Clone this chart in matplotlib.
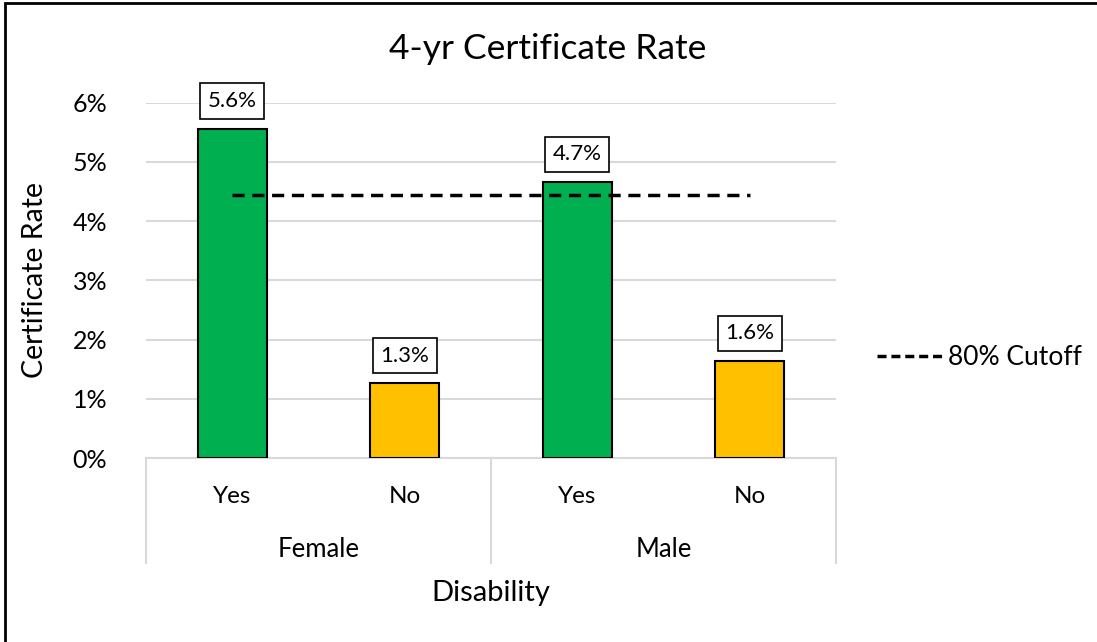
import matplotlib
matplotlib.use("Agg")
import matplotlib.pyplot as plt
from matplotlib.lines import Line2D
from matplotlib.patches import Rectangle

plt.rcParams['font.family'] = ['Lato', 'DejaVu Sans']

# data
groups = ["Female", "Male"]
disability = ["Yes", "No", "Yes", "No"]
rates = [0.0556, 0.0126, 0.0466, 0.0164]
bar_colors = ["#00B050", "#FFC000", "#00B050", "#FFC000"]
cutoff = 0.8 * max(rates)

W, H = 1097, 642
fig = plt.figure(figsize=(W / 100, H / 100), dpi=100)
ax = fig.add_axes([146 / W, 1 - 458 / H, 690 / W, (458 - 102.7) / H])

x = list(range(len(rates)))
ax.bar(x, rates, width=0.4, color=bar_colors, edgecolor="black", linewidth=1.5, zorder=3)

# 80% cutoff line, from first to last bar centre
ax.plot([x[0], x[-1]], [cutoff, cutoff], color="black", linestyle=(0, (3.5, 2.2)),
        linewidth=2.5, zorder=4)

# value labels in boxes
for xi, v in zip(x, rates):
    ax.annotate(f"{v * 100:.1f}%", (xi, v), xytext=(0, 20), textcoords="offset points",
                ha="center", va="center", fontsize=16, annotation_clip=False,
                bbox=dict(boxstyle="square,pad=0.34", fc="white", ec="black", lw=1.2))

ax.set_xlim(-0.5, 3.5)
ax.set_ylim(0, 0.06)
ax.set_yticks([0, 0.01, 0.02, 0.03, 0.04, 0.05, 0.06])
ax.set_yticklabels([f"{int(t * 100)}%" for t in ax.get_yticks()], fontsize=18)
ax.set_xticks(x)
ax.set_xticklabels(disability, fontsize=17.5)
ax.tick_params(axis="both", length=0)
ax.tick_params(axis="y", pad=28)
ax.tick_params(axis="x", pad=20)
ax.grid(axis="y", color="#d9d9d9", linewidth=1.5, zorder=0)
for s in ["top", "right", "left"]:
    ax.spines[s].set_visible(False)
ax.spines["bottom"].set_color("#d9d9d9")
ax.spines["bottom"].set_linewidth(1.5)

# group separators and labels
for xs in [-0.5, 1.5, 3.5]:
    ax.add_line(Line2D([xs, xs], [0, -0.0178], color="#d9d9d9", linewidth=1.5, clip_on=False,
                       transform=ax.transData))
for gi, g in enumerate(groups):
    ax.text(gi * 2 + 0.5, -0.0154, g, ha="center", va="center", fontsize=18.5)

ax.set_ylabel("Certificate Rate", fontsize=20.5)
ax.yaxis.set_label_coords(-0.142, 0.5)
ax.set_xlabel("Disability", fontsize=21, labelpad=53)
fig.text(548 / W, 1 - 49 / H, "4-yr Certificate Rate", ha="center", va="center", fontsize=25.5)

# legend
handle = Line2D([], [], color="black", linestyle=(0, (2.6, 1.4)), linewidth=2.5)
fig.legend([handle], ["80% Cutoff"], loc="center left", bbox_to_anchor=(853 / W, 1 - 358 / H),
           frameon=False, fontsize=19, handlelength=2.5, handletextpad=0.2)

# chart border
fig.patches.append(Rectangle((4.5 / W, -0.1), 1.2, 1.1 - 3 / H, fill=False, edgecolor="black",
                             linewidth=2, transform=fig.transFigure, figure=fig))

fig.savefig("out.png", dpi=100)
